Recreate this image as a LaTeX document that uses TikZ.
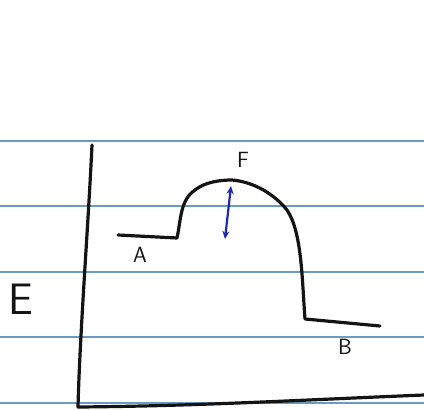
\documentclass[tikz,border=0pt]{standalone}
\usetikzlibrary{arrows.meta}
\definecolor{ruled}{RGB}{105,155,195}
\definecolor{pen}{RGB}{20,20,20}
\definecolor{bluepen}{RGB}{30,40,170}
\tikzset{
  ruleline/.style={ruled, line width=1.8pt},
  penline/.style={pen, line width=3.2pt, line cap=round, line join=round},
  label/.style={font=\sffamily\fontsize{22}{22}\selectfont, pen, inner sep=0pt},
  biglabel/.style={font=\sffamily\fontsize{44}{44}\selectfont, pen, inner sep=0pt},
  gap/.style={bluepen, line width=2.2pt, {Stealth[length=8pt,width=7pt]}-{Stealth[length=8pt,width=7pt]}}
}
\begin{document}
\begin{tikzpicture}[x=1pt,y=-1pt]
\useasboundingbox (0,0) rectangle (424,410);
\fill[white] (0,0) rectangle (424,410);
% ruled paper lines
\foreach \yy in {141,206,272,337,403}
  \draw[ruleline] (0,\yy) -- (424,\yy);
% axes
\coordinate (ytop) at (92,145);
\coordinate (origin) at (78,407);
\coordinate (xend) at (424,395);
\draw[penline] (ytop) .. controls (88,230) and (80,330) .. (origin);
\draw[penline] (origin) .. controls (200,406) and (300,400) .. (xend);
% energy curve
\coordinate (a0) at (118,235);
\coordinate (a1) at (177,238);
\coordinate (peak) at (232,180);
\coordinate (b0) at (305,319);
\coordinate (b1) at (380,326);
\draw[penline] (a0) -- (a1)
  .. controls (181,220) and (180,200) .. (195,190)
  .. controls (205,182) and (220,180) .. (peak)
  .. controls (255,182) and (275,195) .. (287,210)
  .. controls (302,232) and (302,280) .. (b0)
  -- (b1);
% labels
\node[label] (A) at (140,255) {A};
\node[label] (B) at (345,347) {B};
\node[label] (F) at (243,160) {F};
\node[biglabel] (E) at (21,299) {E};
% gap arrow
\coordinate (gtop) at (231,186);
\coordinate (gbot) at (225,239);
\draw[gap] (gtop) -- (gbot);
\end{tikzpicture}
\end{document}
